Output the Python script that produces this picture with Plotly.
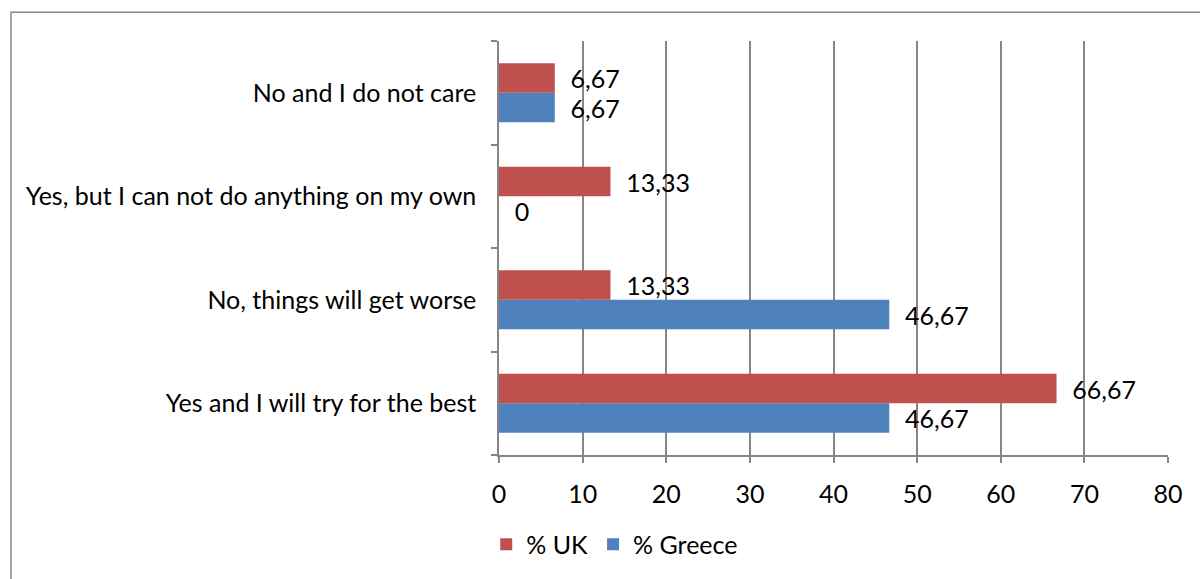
import plotly.graph_objects as go

categories = ["Yes and I will try for the best", "No, things will get worse",
              "Yes, but I can not do anything on my own", "No and I do not care"]
uk = [66.67, 13.33, 13.33, 6.67]
greece = [46.67, 46.67, 0, 6.67]
x_ticks = [0, 10, 20, 30, 40, 50, 60, 70, 80]

def fmt(v):
    return "\u00a0\u00a0" + ("%g" % v).replace(".", ",")

FONT = "Lato"
FS = 25
W, H = 1200, 579
L, R, T, B = 499, 32, 41, 122
pw, ph = W - L - R, H - T - B

fig = go.Figure()
fig.add_trace(go.Bar(y=categories, x=greece, name="% Greece", orientation="h",
                     marker=dict(color="#4F81BD", line=dict(width=0)),
                     text=[fmt(v) for v in greece], textposition="outside", constraintext="none",
                     textfont=dict(size=FS, color="#000000", family=FONT), cliponaxis=False))
fig.add_trace(go.Bar(y=categories, x=uk, name="% UK", orientation="h",
                     marker=dict(color="#C0504D", line=dict(width=0)),
                     text=[fmt(v) for v in uk], textposition="outside", constraintext="none",
                     textfont=dict(size=FS, color="#000000", family=FONT), cliponaxis=False))

bx = (11 - L) / pw
by = 1 + (T - 12) / ph
fig.add_shape(type="rect", xref="paper", yref="paper", x0=bx, x1=1.2, y0=-0.5, y1=by,
              line=dict(color="#898989", width=1.5), layer="below")

fig.update_layout(
    width=W, height=H, barmode="group", bargap=0.43, bargroupgap=0,
    margin=dict(l=L, r=R, t=T, b=B),
    paper_bgcolor="white", plot_bgcolor="white",
    font=dict(family=FONT, size=FS, color="#000000"),
    showlegend=True,
    legend=dict(orientation="h", x=0.173, xanchor="center", y=-0.216, yanchor="middle",
                traceorder="reversed", font=dict(size=FS), itemwidth=30),
    xaxis=dict(range=[0, 80], tickvals=x_ticks, showgrid=True, gridcolor="#868686", gridwidth=1.5,
               showline=True, linecolor="#868686", linewidth=1.5, ticks="outside", ticklen=6,
               tickcolor="#868686", tickwidth=1.5, zeroline=False, tickfont=dict(size=FS),
               ticklabelstandoff=10),
    yaxis=dict(showline=True, linecolor="#868686", linewidth=1.5, ticks="outside", ticklen=6,
               tickcolor="#868686", tickwidth=1.5, tickson="boundaries", showgrid=False,
               tickfont=dict(size=FS), ticklabelstandoff=16),
)
fig.write_html("out.html")
